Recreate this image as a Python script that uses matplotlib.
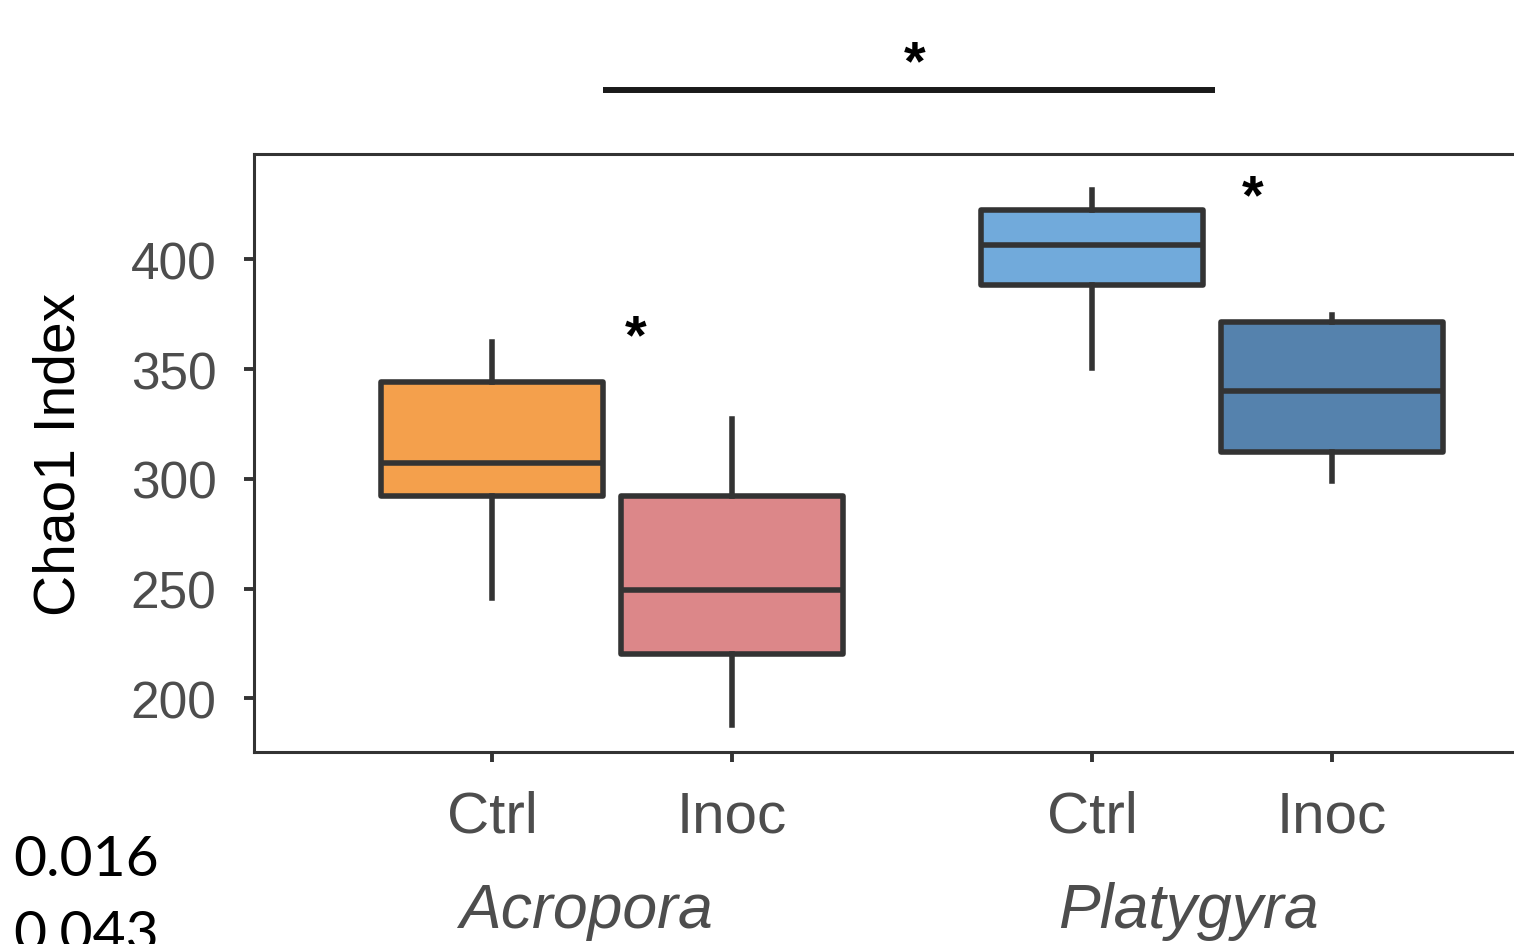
import matplotlib
matplotlib.use("Agg")
import matplotlib.pyplot as plt
import matplotlib.transforms as mtransforms

# box statistics (Chao1 index)
labels = ["Ctrl", "Inoc", "Ctrl", "Inoc"]
groups = ["Acropora", "Platygyra"]
whislo = [245.5, 187.7, 350.5, 299.1]
q1 = [292.3, 220.0, 388.2, 312.3]
med = [307.3, 249.5, 406.4, 340.0]
q3 = [344.1, 292.3, 422.3, 371.4]
whishi = [362.3, 327.3, 431.4, 374.5]
colors = ["#F4A04C", "#DC8789", "#71AADB", "#5582AD"]
pvalues = ["0.016", "0.043"]

positions = [1, 2, 3.5, 4.5]
edge = "#333333"

fig = plt.figure(figsize=(15.14, 9.45), dpi=100)
ax = fig.add_axes([254 / 1514, 1 - 753 / 945, 1 - 254 / 1514, (753 - 155) / 945])

stats = []
for i in range(len(labels)):
    stats.append({"whislo": whislo[i], "q1": q1[i], "med": med[i],
                  "q3": q3[i], "whishi": whishi[i], "label": labels[i]})

bp = ax.bxp(stats, positions=positions, widths=0.925, showfliers=False,
            showcaps=False, patch_artist=True,
            boxprops=dict(edgecolor=edge, linewidth=4),
            medianprops=dict(color=edge, linewidth=4),
            whiskerprops=dict(color=edge, linewidth=4))
for patch, c in zip(bp["boxes"], colors):
    patch.set_facecolor(c)
    patch.set_joinstyle("round")

ax.set_xlim(1 - 238 / 240, 1 + (1514 - 492) / 240)
ax.set_ylim(175.5, 448)
ax.set_yticks([200, 250, 300, 350, 400])
ax.set_xticks(positions)
ax.set_xticklabels(labels)

for side in ["left", "top", "bottom"]:
    ax.spines[side].set_color(edge)
    ax.spines[side].set_linewidth(2.2)
ax.spines["right"].set_visible(False)

ax.tick_params(axis="y", length=7, width=2.8, color=edge, labelcolor="#4D4D4D",
               labelsize=37, pad=20)
ax.tick_params(axis="x", length=7, width=2.8, color=edge, labelcolor="#4D4D4D",
               labelsize=42, pad=20)
for t in ax.get_xticklabels() + ax.get_yticklabels():
    t.set_fontfamily("Liberation Sans")

ax.set_ylabel("Chao1 Index", fontsize=41, color="black", family="Liberation Sans",
              labelpad=32)

# group names under the tick labels
trans = mtransforms.blended_transform_factory(ax.transData, fig.transFigure)
ax.text(1.39, 1 - 912 / 945, groups[0], transform=trans, ha="center", va="center",
        fontsize=45, style="italic", color="#4D4D4D", family="Liberation Sans")
ax.text(3.9, 1 - 912 / 945, groups[1], transform=trans, ha="center", va="center",
        fontsize=45, style="italic", color="#4D4D4D", family="Liberation Sans")

# significance marks
ax.plot([1.4625, 4.0125], [477.3, 477.3], color="#1a1a1a", lw=4.3,
        clip_on=False, solid_capstyle="butt")
ax.text(2.7625, 489, "*", ha="center", va="center", fontsize=40,
        fontweight="bold", family="Liberation Sans", clip_on=False)
ax.text(1.6, 364, "*", ha="center", va="center", fontsize=40,
        fontweight="bold", family="Liberation Sans")
ax.text(4.17, 428, "*", ha="center", va="center", fontsize=40,
        fontweight="bold", family="Liberation Sans")

# p-values in the lower left corner (second one runs off the bottom edge)
fig.text(13 / 1514, 1 - 861 / 945, pvalues[0], ha="left", va="center",
         fontsize=41, family="Lato", color="black")
fig.text(13 / 1514, 1 - 936 / 945, pvalues[1], ha="left", va="center",
         fontsize=41, family="Lato", color="black")

fig.savefig("out.png", dpi=100)
